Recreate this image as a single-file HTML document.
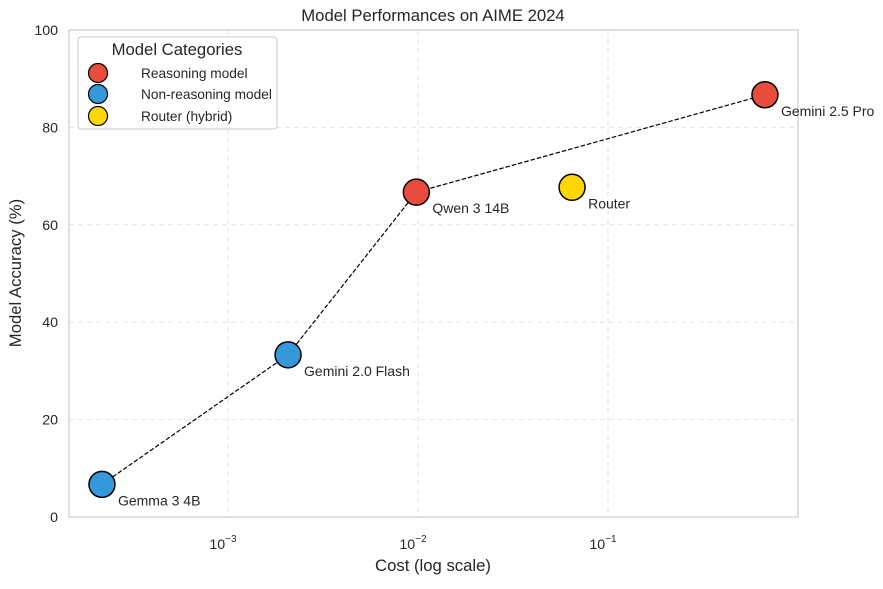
<!DOCTYPE html>
<html><head><meta charset="utf-8"><style>
body{margin:0;background:#fff;font-family:"Liberation Sans","DejaVu Sans",sans-serif;}
svg text{font-family:"Liberation Sans","DejaVu Sans",sans-serif;fill:#262626;}
</style></head><body>
<svg id="chart" width="883" height="584" xmlns="http://www.w3.org/2000/svg">
<rect width="883" height="584" fill="#fff"/>
<g id="grid"></g>
<rect x="69" y="30" width="729" height="487" fill="none" stroke="#cccccc" stroke-width="1.2"/>
<g id="axes"></g>
<g id="marks"></g>
<text x="433" y="21" font-size="16.7" text-anchor="middle">Model Performances on AIME 2024</text>
<text x="433" y="571" font-size="16.7" text-anchor="middle">Cost (log scale)</text>
<text transform="translate(21,273) rotate(-90)" font-size="16.7" text-anchor="middle">Model Accuracy (%)</text>
<g>
<rect x="78" y="37" width="199" height="92" rx="3" fill="#fff" fill-opacity="0.85" stroke="#cccccc"/>
<text x="177" y="55" font-size="16.7" text-anchor="middle">Model Categories</text>
<g><circle cx="98" cy="73" r="9.5" fill="#e74c3c" stroke="#000" stroke-width="1.2"/><text x="141" y="78" font-size="13.7">Reasoning model</text></g>
<g><circle cx="98" cy="94" r="9.5" fill="#3498db" stroke="#000" stroke-width="1.2"/><text x="141" y="99" font-size="13.7">Non-reasoning model</text></g>
<g><circle cx="98" cy="116" r="9.5" fill="#ffd700" stroke="#000" stroke-width="1.2"/><text x="141" y="121" font-size="13.7">Router (hybrid)</text></g>
</g>
</svg>
<script>
const names=["Gemma 3 4B","Gemini 2.0 Flash","Qwen 3 14B","Router","Gemini 2.5 Pro"];
const costs=[0.000217,0.00207,0.0098,0.0647,0.67];
const accuracy=[6.7,33.3,66.7,67.7,86.7];
const categories=["non","non","reasoning","router","reasoning"];
const frontier=[0,1,2,4];
const yTicks=[0,20,40,60,80,100];
const xTickExp=[-3,-2,-1];
const colors={reasoning:"#e74c3c",non:"#3498db",router:"#ffd700"};
const X0=69,X1=798,Y0=517,Y1=30,LMIN=-3.837,LMAX=0;
const xs=v=>X0+(Math.log10(v)-LMIN)/(LMAX-LMIN)*(X1-X0);
const ys=v=>Y0-(v/100)*(Y0-Y1);
const NS="http://www.w3.org/2000/svg";
function mk(t,a,p){const e=document.createElementNS(NS,t);for(const k in a)e.setAttribute(k,a[k]);p.appendChild(e);return e;}
const grid=document.getElementById('grid'),axes=document.getElementById('axes'),marks=document.getElementById('marks');
yTicks.forEach(t=>{const y=ys(t);
 const g=mk('line',{x1:X0,x2:X1,y1:y,y2:y,stroke:"#e3e3e3","stroke-dasharray":"5,4"},grid);
 
 
 const tx=mk('text',{x:X0-11,y:y+5,"font-size":14.2,"text-anchor":"end"},axes);tx.textContent=t;
 
 
});
xTickExp.forEach(e=>{const x=xs(Math.pow(10,e));
 const g=mk('line',{x1:x,x2:x,y1:Y1,y2:Y0,stroke:"#e3e3e3","stroke-dasharray":"5,4"},grid);
 
 
 const tx=mk('text',{x:x-5,y:Y0+32,"font-size":14.2,"text-anchor":"middle"},axes);
 tx.innerHTML='10<tspan dy="-7" font-size="10">'+(e<0?'\u2212':'')+Math.abs(e)+'</tspan>';
 
 
});
const pts=frontier.map(i=>xs(costs[i])+','+ys(accuracy[i])).join(' ');
const pl=mk('polyline',{points:pts,fill:"none",stroke:"#000","stroke-width":1.2,"stroke-dasharray":"4.5,2"},marks);


names.forEach((n,i)=>{const x=xs(costs[i]),y=ys(accuracy[i]);
 const c=mk('circle',{cx:x,cy:y,r:13,fill:colors[categories[i]],stroke:"#000","stroke-width":1.5},marks);
 
 
 const t=mk('text',{x:x+16,y:y+21,"font-size":14},marks);t.textContent=n;
 
 
});
</script>
</body></html>
